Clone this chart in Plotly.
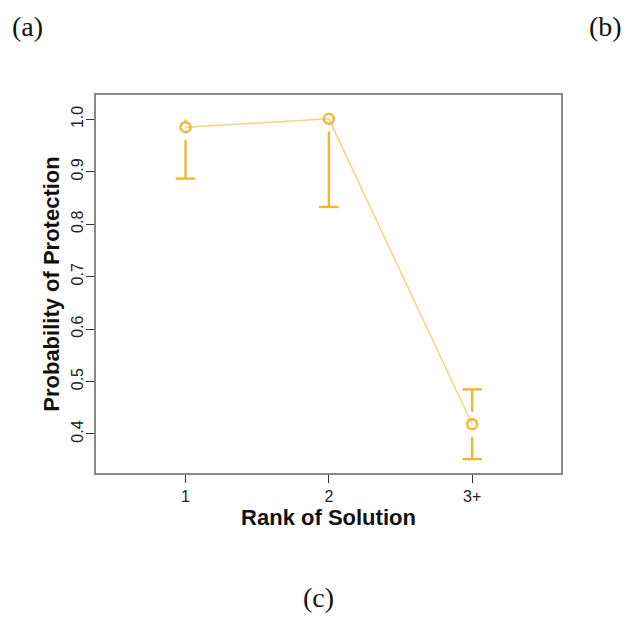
import plotly.graph_objects as go

categories = ["1", "2", "3+"]
x_pos = [1, 2, 3]
prob = [0.985, 1.001, 0.4185]
ci_lower = [0.887, 0.833, 0.352]
ci_upper = [1.0, 1.0, 0.485]
y_ticks = [0.4, 0.5, 0.6, 0.7, 0.8, 0.9, 1.0]
y_tick_labels = ["0.4", "0.5", "0.6", "0.7", "0.8", "0.9", "1.0"]

ORANGE = "#F5B530"
LINE_C = "#F8D27E"
gap = 0.024

fig = go.Figure()

fig.add_trace(go.Scatter(x=x_pos, y=prob, mode="lines",
                         line=dict(color=LINE_C, width=1.5), hoverinfo="skip"))

for xi, yi, lo, hi in zip(x_pos, prob, ci_lower, ci_upper):
    if yi - lo > gap:
        fig.add_trace(go.Scatter(x=[xi, xi], y=[yi - gap, lo], mode="lines",
                                 line=dict(color=ORANGE, width=2.4), hoverinfo="skip"))
        fig.add_trace(go.Scatter(x=[xi], y=[lo], mode="markers",
                                 marker=dict(symbol="line-ew", size=14, color=ORANGE,
                                             line=dict(color=ORANGE, width=2.4)),
                                 hoverinfo="skip"))
    if hi - yi > gap:
        fig.add_trace(go.Scatter(x=[xi, xi], y=[yi + gap, hi], mode="lines",
                                 line=dict(color=ORANGE, width=2.4), hoverinfo="skip"))
        fig.add_trace(go.Scatter(x=[xi], y=[hi], mode="markers",
                                 marker=dict(symbol="line-ew", size=14, color=ORANGE,
                                             line=dict(color=ORANGE, width=2.4)),
                                 hoverinfo="skip"))
    elif hi - yi > 0.01:
        fig.add_trace(go.Scatter(x=[xi, xi], y=[yi + 0.01, hi], mode="lines",
                                 line=dict(color=ORANGE, width=2), hoverinfo="skip"))

fig.add_trace(go.Scatter(x=x_pos, y=prob, mode="markers",
                         marker=dict(symbol="circle-open", size=10, color=ORANGE,
                                     line=dict(color=ORANGE, width=2.4)),
                         hoverinfo="skip"))

axis_font = dict(family="Liberation Sans, Arial, sans-serif", size=16, color="#222")
title_font = dict(family="Liberation Sans, Arial, sans-serif", size=22, color="#111")

# page has an 8px body margin; figure coordinates are page coordinates minus 8
W, H = 621, 609
L, R, T, B = 88, 68, 87, 144

fig.update_layout(
    width=W, height=H,
    margin=dict(l=L, r=R, t=T, b=B, autoexpand=False),
    paper_bgcolor="white", plot_bgcolor="white",
    showlegend=False,
    xaxis=dict(
        range=[0.375, 3.62], tickmode="array", tickvals=x_pos, ticktext=categories,
        ticks="outside", ticklen=8, tickwidth=1.2, tickcolor="#333",
        showline=True, linecolor="#888", linewidth=2, mirror=True,
        showgrid=False, zeroline=False, tickfont=axis_font, automargin=False,
        title=dict(text="<b>Rank of Solution</b>", standoff=2, font=title_font),
    ),
    yaxis=dict(
        range=[0.3255, 1.0465], tickmode="array", tickvals=y_ticks, ticktext=y_tick_labels,
        tickangle=-90, ticklabelstandoff=-3,
        ticks="outside", ticklen=8, tickwidth=1.2, tickcolor="#333",
        showline=True, linecolor="#888", linewidth=2, mirror=True,
        showgrid=False, zeroline=False, tickfont=axis_font, automargin=False,
        title=dict(text="<b>Probability of Protection</b>", standoff=3, font=title_font),
    ),
)

serif = dict(family="Liberation Serif, DejaVu Serif, serif", size=28, color="#111")
for txt, px, py, xa in [("(a)", 2, 19, "left"), ("(b)", 616, 19, "right"), ("(c)", 310, 589, "center")]:
    xp = (px - L) / (W - L - R)
    yp = 1 - (py - T) / (H - T - B)
    fig.add_annotation(text=txt, x=xp, y=yp, xref="paper", yref="paper", showarrow=False,
                       font=serif, xanchor=xa, yanchor="middle")

fig.write_html("out.html")
